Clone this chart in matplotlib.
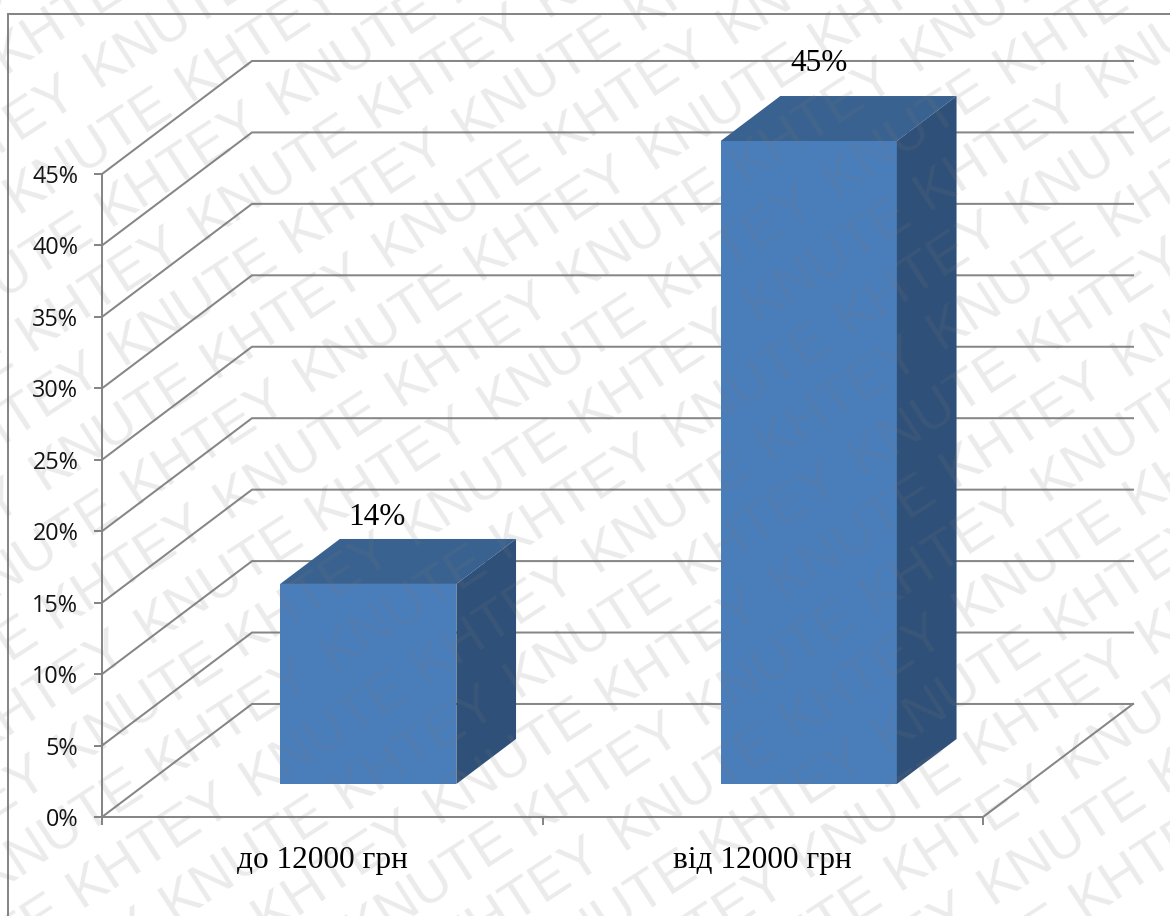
from __future__ import annotations

import math

import matplotlib

matplotlib.use("Agg")
import matplotlib.pyplot as plt
from matplotlib.patches import Polygon
from matplotlib.transforms import IdentityTransform


CATEGORIES = ["до 12000 грн", "від 12000 грн"]
SHARES = [14, 45]
Y_TICKS = [0, 5, 10, 15, 20, 25, 30, 35, 40, 45]
STAMP_WORDS = ["KNUTE", "KHTEY"]

WIDTH, HEIGHT = 1170, 916
LINE = "#868686"
FRONT = "#4A7EBB"
TOP = "#3A6290"
SIDE = "#2F5079"

# floor depth of the 3D box, in axis units
DEPTH_X = 0.3405
DEPTH_Y = 7.91
BAR_WIDTH = 0.4
BAR_NEAR = 0.292
BAR_FAR = 0.69
BAR_SHIFT = 0.005

STAMP_ANGLE = 33
STAMP_STEP = 205
STAMP_ROW = 61.7
STAMP_STAGGER = 70


def project(x: float, y: float, depth: float) -> tuple[float, float]:
    return x + depth * DEPTH_X, y + depth * DEPTH_Y


def draw_walls(ax: plt.Axes) -> None:
    for tick in Y_TICKS:
        xs, ys = zip(project(0, tick, 0), project(0, tick, 1), project(2, tick, 1))
        ax.plot(xs, ys, color=LINE, lw=1.45, clip_on=False, zorder=1, solid_joinstyle="miter")
    xs, ys = zip(project(2, 0, 0), project(2, 0, 1))
    ax.plot(xs, ys, color=LINE, lw=1.45, clip_on=False, zorder=1)


def draw_bar(ax: plt.Axes, center: float, value: float) -> None:
    left = center - BAR_WIDTH / 2
    right = center + BAR_WIDTH / 2
    faces = [
        (FRONT, [(left, 0, BAR_NEAR), (right, 0, BAR_NEAR), (right, value, BAR_NEAR), (left, value, BAR_NEAR)]),
        (TOP, [(left, value, BAR_NEAR), (right, value, BAR_NEAR), (right, value, BAR_FAR), (left, value, BAR_FAR)]),
        (SIDE, [(right, 0, BAR_NEAR), (right, 0, BAR_FAR), (right, value, BAR_FAR), (right, value, BAR_NEAR)]),
    ]
    for color, corners in faces:
        points = [project(*corner) for corner in corners]
        ax.add_patch(Polygon(points, closed=True, facecolor=color, edgecolor="none", clip_on=False, zorder=3))


def add_watermark(fig: plt.Figure) -> None:
    # staggered diagonal rows of two alternating words
    ux, uy = math.cos(math.radians(STAMP_ANGLE)), math.sin(math.radians(STAMP_ANGLE))
    origin_x, origin_y = 97, HEIGHT - 88
    for row in range(-24, 25):
        for col in range(-16, 17):
            along = col * STAMP_STEP + row * STAMP_STAGGER
            x = origin_x + along * ux + row * STAMP_ROW * uy
            y = origin_y + along * uy - row * STAMP_ROW * ux
            if not (-170 < x < WIDTH and -130 < y < HEIGHT):
                continue
            fig.text(
                x,
                y,
                STAMP_WORDS[(col + row) % 2],
                transform=IdentityTransform(),
                rotation=STAMP_ANGLE,
                rotation_mode="anchor",
                ha="left",
                va="baseline",
                fontsize=40,
                family="Liberation Sans",
                color="#777777",
                alpha=0.15,
                zorder=10,
            )


fig = plt.figure(figsize=(WIDTH / 100, HEIGHT / 100), dpi=100, facecolor="white")
ax = fig.add_axes([102 / WIDTH, (HEIGHT - 817) / HEIGHT, 881 / WIDTH, 643 / HEIGHT])
ax.set_xlim(0, 2)
ax.set_ylim(0, 45)
ax.patch.set_visible(False)

for name in ("top", "right"):
    ax.spines[name].set_visible(False)
for name in ("left", "bottom"):
    ax.spines[name].set_color(LINE)
    ax.spines[name].set_linewidth(1.45)

ax.set_yticks(Y_TICKS, [f"{tick}%" for tick in Y_TICKS])
ax.set_xticks([0, 1, 2], ["", "", ""])
ax.set_xticks([0.5, 1.5], CATEGORIES, minor=True)
ax.tick_params(axis="both", which="major", color=LINE, width=1.45, length=5.5)
ax.tick_params(axis="y", labelsize=16.8, pad=11.5, labelfontfamily="Open Sans", labelcolor="#111111")
ax.tick_params(axis="x", which="minor", length=0, labelsize=22.5, pad=21, labelfontfamily="Liberation Serif")

draw_walls(ax)

label_offsets = [(-51, 21), (-49, 33)]
for index, value in enumerate(SHARES):
    center = index + 0.5 + BAR_SHIFT
    draw_bar(ax, center, value)
    label_x, label_y = project(center, value, BAR_FAR)
    ax.annotate(
        f"{value}%",
        (label_x, label_y),
        xytext=label_offsets[index],
        textcoords="offset pixels",
        ha="center",
        va="center",
        fontsize=22.5,
        family="Liberation Serif",
        annotation_clip=False,
        zorder=5,
    )

# outer chart frame, open at the right and bottom edges
fig.add_artist(plt.Line2D([8 / WIDTH, 8 / WIDTH], [0, 1 - 14 / HEIGHT], color=LINE, lw=1.45))
fig.add_artist(plt.Line2D([8 / WIDTH, 1], [1 - 14 / HEIGHT, 1 - 14 / HEIGHT], color=LINE, lw=1.45))

add_watermark(fig)

fig.savefig("out.png", dpi=100)
